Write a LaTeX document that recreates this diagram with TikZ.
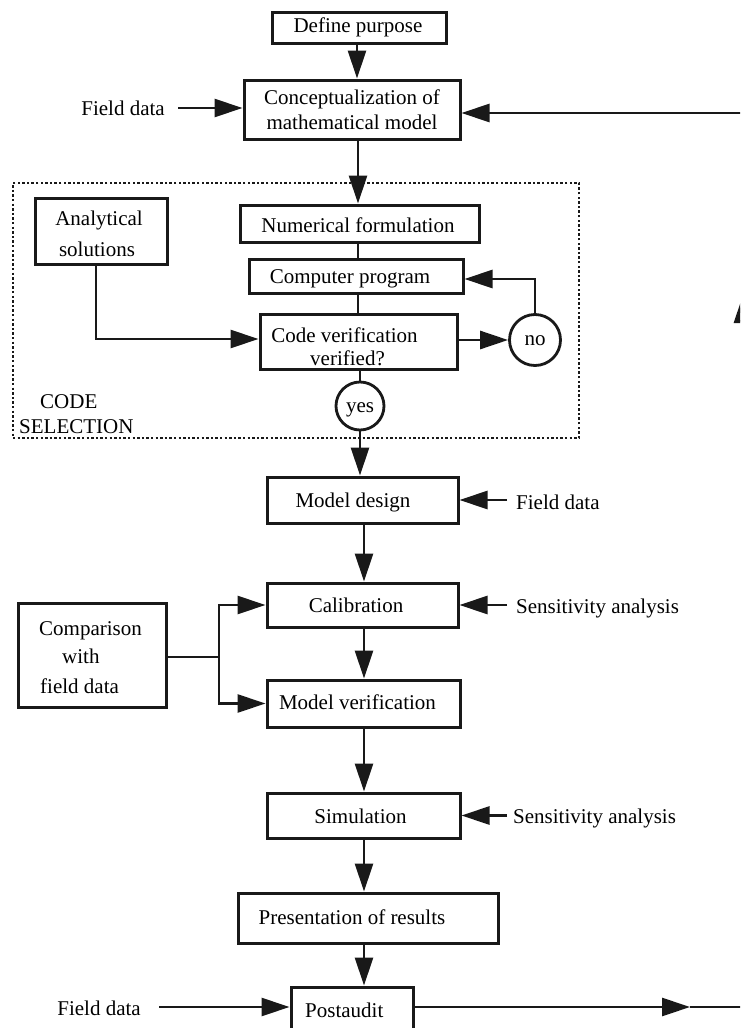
\documentclass[tikz,border=0pt]{standalone}
\usepackage{fontspec}
\setmainfont{Liberation Serif}
\usetikzlibrary{arrows.meta}
\begin{document}
\begin{tikzpicture}[x=1pt,y=-1pt,
  font=\fontsize{21}{25}\selectfont,
  box/.style={draw=black!90, line width=3pt, inner sep=0pt},
  circ/.style={draw=black!90, circle, line width=2.8pt, inner sep=0pt, minimum size=#1},
  ln/.style={draw=black!90, line width=2.8pt},
  arr/.style={draw=black!90, line width=2.8pt, -{Triangle[length=28pt,width=18pt]}},
  lbl/.style={inner sep=0pt},
  frame/.style={draw=black!90, line width=2.4pt, dash pattern=on 2.4pt off 2.2pt}
]
\path[use as bounding box] (0,0) rectangle (740,1028);
\clip (0,0) rectangle (740,1028);

% axis coordinates
\coordinate (v1) at (357,0);
\coordinate (v2) at (358,0);
\coordinate (v4) at (364,0);

% frame
\node[frame, minimum width=566pt, minimum height=255pt, inner sep=0pt] (codesel) at (296,310.5) {};
\node[lbl, anchor=base west] (cs1) at (40,408) {CODE};
\node[lbl, anchor=base west] (cs2) at (19,433) {SELECTION};

% boxes
\node[box, minimum width=174pt, minimum height=31pt] (def) at (359,27.5) {};
\node[lbl, anchor=base] (deft) at (358,32) {Define purpose};
\node[box, minimum width=216pt, minimum height=59pt] (conc) at (352,109.5) {};
\node[lbl, anchor=base] (conct1) at (352,104) {Conceptualization of};
\node[lbl, anchor=base] (conct2) at (352,129) {mathematical model};
\node[box, minimum width=239pt, minimum height=37pt] (numf) at (359.5,223.5) {};
\node[lbl, anchor=base] (numft) at (358,232) {Numerical formulation};
\node[box, minimum width=214pt, minimum height=34pt] (comp) at (356,276) {};
\node[lbl, anchor=base] (compt) at (350,283) {Computer program};
\node[box, minimum width=197pt, minimum height=55pt] (codev) at (358.5,341.5) {};
\node[lbl, anchor=base] (codevt1) at (344.5,342) {Code verification};
\node[lbl, anchor=base] (codevt2) at (347.5,365) {verified?};
\node[circ=51pt] (no) at (535,340) {};
\node[lbl, anchor=base] (not) at (535,345) {no};
\node[circ=48pt] (yes) at (360,406) {};
\node[lbl, anchor=base] (yest) at (360,412) {yes};
\node[box, minimum width=132pt, minimum height=66pt] (anal) at (101,231) {};
\node[lbl, anchor=base] (analt1) at (99,225) {Analytical};
\node[lbl, anchor=base] (analt2) at (97,256) {solutions};

\node[box, minimum width=191pt, minimum height=46pt] (model) at (362.5,500) {};
\node[lbl, anchor=base] (modelt) at (353,507) {Model design};
\node[box, minimum width=191pt, minimum height=44pt] (calib) at (362.5,605) {};
\node[lbl, anchor=base] (calibt) at (356,612) {Calibration};
\node[box, minimum width=193pt, minimum height=47pt] (modver) at (363.5,703.5) {};
\node[lbl, anchor=base] (modvert) at (357.5,709) {Model verification};
\node[box, minimum width=193pt, minimum height=45pt] (sim) at (363.5,815.5) {};
\node[lbl, anchor=base] (simt) at (360.5,823) {Simulation};
\node[box, minimum width=260pt, minimum height=50pt] (pres) at (368,918) {};
\node[lbl, anchor=base] (prest) at (352,924) {Presentation of results};
\node[box, minimum width=122pt, minimum height=60pt] (post) at (352,1017) {};
\node[lbl, anchor=base west] (postt) at (305,1017) {Postaudit};

\node[box, minimum width=148pt, minimum height=104pt] (cmp) at (92,655) {};
\node[lbl, anchor=base west] (cmpt1) at (39,635) {Comparison};
\node[lbl, anchor=base west] (cmpt2) at (62,663) {with};
\node[lbl, anchor=base west] (cmpt3) at (40,693) {field data};

% side labels
\node[lbl, anchor=base east] (fd1) at (165,115) {Field data};
\node[lbl, anchor=base west] (fd2) at (516,509) {Field data};
\node[lbl, anchor=base west] (sa1) at (516,613) {Sensitivity analysis};
\node[lbl, anchor=base west] (sa2) at (513,823) {Sensitivity analysis};
\node[lbl, anchor=base east] (fd3) at (141,1015) {Field data};

% connectors
\draw[arr] (def.south -| v1) -- (conc.north -| v1);
\coordinate (fy) at (0,108);
\draw[arr, shorten <=13pt] (fd1.east |- fy) -- (conc.west |- fy);
\draw[arr] (conc.south -| v2) -- (numf.north -| v2);
\draw[ln] (numf.south -| v2) -- (comp.north -| v2);
\draw[ln] (comp.south -| v2) -- (codev.north -| v2);
\draw[arr] (codev.east |- no.west) -- (no.west);
\coordinate (ny) at (0,279);
\draw[arr] (no.north) |- (comp.east |- ny);
\coordinate (ak) at (96,339);
\draw[arr] (anal.south -| ak) -- (ak) -- (codev.west |- ak);
\draw[ln] (codev.south -| yes.north) -- (yes.north);
\draw[arr] (yes.south) -- (model.north -| yes.south);

\draw[arr, shorten <=9pt] (fd2.west |- model.east) -- (model.east);
\draw[arr] (model.south -| v4) -- (calib.north -| v4);
\draw[arr, shorten <=9pt] (sa1.west |- calib.east) -- (calib.east);
\coordinate (jx) at (219,657);
\draw[ln] (cmp.east |- jx) -- (jx);
\draw[arr] (jx) |- (calib.west);
\draw[arr] (jx) |- (modver.west);
\draw[arr] (calib.south -| v4) -- (modver.north -| v4);
\draw[arr] (modver.south -| v4) -- (sim.north -| v4);
\draw[arr, shorten <=6pt] (sa2.west |- sim.east) -- (sim.east);
\draw[arr] (sim.south -| v4) -- (pres.north -| v4);
\draw[arr] (pres.south -| v4) -- (post.north -| v4);
\coordinate (py) at (0,1007);
\draw[arr, shorten <=18pt] (fd3.east |- py) -- (post.west |- py);

% feedback loop (partly outside the frame)
\coordinate (c1) at (743,1007);
\coordinate (c2) at (743,113);
\coordinate (m1) at (690,1007);
\coordinate (m2) at (743,295);
\draw[arr] (post.east |- c1) -- (m1);
\draw[arr] (m1) -- (c1) -- (m2);
\draw[arr] (m2) -- (c2) -- (conc.east |- c2);
\end{tikzpicture}
\end{document}
